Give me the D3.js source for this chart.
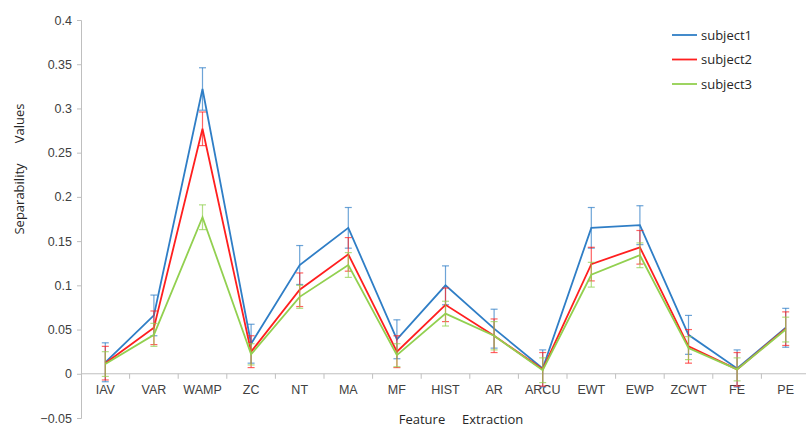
<!DOCTYPE html>
<html>
<head>
<meta charset="utf-8">
<script src="https://cdn.jsdelivr.net/npm/d3@7"></script>
<style>
  body { margin: 0; background: #fff; }
  svg { font-family: "Open Sans", "DejaVu Sans", sans-serif; }
  .axis text { fill: #404040; font-size: 12.5px; }
  .axis path, .axis line { stroke: #bfbfbf; }
</style>
</head>
<body>
<div id="chart"></div>
<script>
// categories and series values
const features = ["IAV", "VAR", "WAMP", "ZC", "NT", "MA", "MF", "HIST", "AR", "ARCU", "EWT", "EWP", "ZCWT", "FE", "PE"];
const subject1 = [0.013, 0.066, 0.322, 0.034, 0.123, 0.165, 0.039, 0.100, 0.051, 0.006, 0.165, 0.168, 0.044, 0.006, 0.052];
const subject2 = [0.012, 0.052, 0.277, 0.025, 0.095, 0.135, 0.025, 0.078, 0.043, 0.005, 0.124, 0.143, 0.031, 0.005, 0.051];
const subject3 = [0.011, 0.044, 0.177, 0.022, 0.087, 0.123, 0.021, 0.068, 0.043, 0.004, 0.112, 0.134, 0.029, 0.005, 0.050];
const error1 = [0.022, 0.023, 0.024, 0.022, 0.022, 0.023, 0.022, 0.022, 0.022, 0.021, 0.023, 0.022, 0.022, 0.021, 0.022];
const error2 = [0.019, 0.019, 0.019, 0.018, 0.019, 0.019, 0.018, 0.019, 0.019, 0.019, 0.019, 0.019, 0.019, 0.019, 0.019];
const error3 = [0.014, 0.013, 0.014, 0.012, 0.013, 0.014, 0.013, 0.014, 0.016, 0.014, 0.014, 0.014, 0.013, 0.013, 0.014];
const yTicks = [-0.05, 0, 0.05, 0.1, 0.15, 0.2, 0.25, 0.3, 0.35, 0.4];

const series = [
    { name: "subject1", values: subject1, errors: error1, color: "#2f7ec6" },
    { name: "subject2", values: subject2, errors: error2, color: "#ff1f1f" },
    { name: "subject3", values: subject3, errors: error3, color: "#92d050" }
];

const width = 806;
const height = 429;
const margin = { top: 20, left: 81, right: -4, bottom: 11 };

const svg = d3.select("#chart")
    .append("svg")
    .attr("width", width)
    .attr("height", height);

/*
SCALES
*/
const xScale = d3.scaleBand()
    .domain(features)
    .range([margin.left, width - margin.right]);

const yScale = d3.scaleLinear()
    .domain([-0.05, 0.4])
    .range([height - margin.bottom, margin.top]);

/*
AXES
*/
const yAxis = svg.append("g")
    .attr("class", "axis")
    .attr("transform", `translate(${margin.left},0)`)
    .call(d3.axisLeft(yScale).tickValues(yTicks).tickSize(4).tickPadding(5).tickFormat(d => d3.format("")(+d.toFixed(2))));

const xAxis = svg.append("g")
    .attr("class", "axis")
    .attr("transform", `translate(0,${yScale(0)})`)
    .call(d3.axisBottom(xScale).tickSize(0).tickPadding(11));

xAxis.select(".domain").remove();
xAxis.append("line")
    .attr("x1", margin.left)
    .attr("x2", width)
    .attr("stroke", "#bfbfbf");

// tick marks between categories
xAxis.selectAll(".sep")
    .data(features.slice(1))
    .enter()
    .append("line")
    .attr("x1", d => xScale(d))
    .attr("x2", d => xScale(d))
    .attr("y1", 0)
    .attr("y2", 5)
    .attr("stroke", "#bfbfbf");

/*
LINES AND ERROR BARS
*/
const cx = d => xScale(d) + xScale.bandwidth() / 2;

const line = d3.line()
    .x((d, i) => cx(features[i]))
    .y(d => yScale(d));

series.forEach(function (s) {
    const g = svg.append("g");

    const bars = g.selectAll(".err")
        .data(features)
        .enter()
        .append("g")
        .attr("stroke", s.color)
        .attr("stroke-opacity", 0.7)
        .attr("stroke-width", 1.2);

    bars.append("line")
        .attr("x1", d => cx(d))
        .attr("x2", d => cx(d))
        .attr("y1", (d, i) => yScale(s.values[i] + s.errors[i]))
        .attr("y2", (d, i) => yScale(s.values[i] - s.errors[i]));

    [1, -1].forEach(function (sign) {
        bars.append("line")
            .attr("x1", d => cx(d) - 3.5)
            .attr("x2", d => cx(d) + 3.5)
            .attr("y1", (d, i) => yScale(s.values[i] + sign * s.errors[i]))
            .attr("y2", (d, i) => yScale(s.values[i] + sign * s.errors[i]));
    });

    g.append("path")
        .datum(s.values)
        .attr("d", line)
        .attr("fill", "none")
        .attr("stroke", s.color)
        .attr("stroke-width", 1.8);
});

/*
LEGEND
*/
const legend = svg.selectAll(".legend")
    .data(series)
    .enter()
    .append("g")
    .attr("transform", (d, i) => `translate(672,${35 + i * 24.5})`);

legend.append("line")
    .attr("x1", 0)
    .attr("x2", 25)
    .attr("stroke", d => d.color)
    .attr("stroke-width", 1.8);

legend.append("text")
    .attr("x", 29)
    .attr("dy", "0.35em")
    .attr("font-size", 13)
    .attr("fill", "#262626")
    .text(d => d.name);

/*
AXIS LABELS
*/
svg.append("text")
    .attr("x", 461)
    .attr("y", 424)
    .attr("text-anchor", "middle")
    .attr("font-size", 13)
    .attr("fill", "#262626")
    .style("white-space", "pre")
    .text("Feature     Extraction");

svg.append("text")
    .attr("transform", "translate(24,169) rotate(-90)")
    .attr("text-anchor", "middle")
    .attr("font-size", 13)
    .attr("fill", "#262626")
    .style("white-space", "pre")
    .text("Separability      Values");
</script>
</body>
</html>
